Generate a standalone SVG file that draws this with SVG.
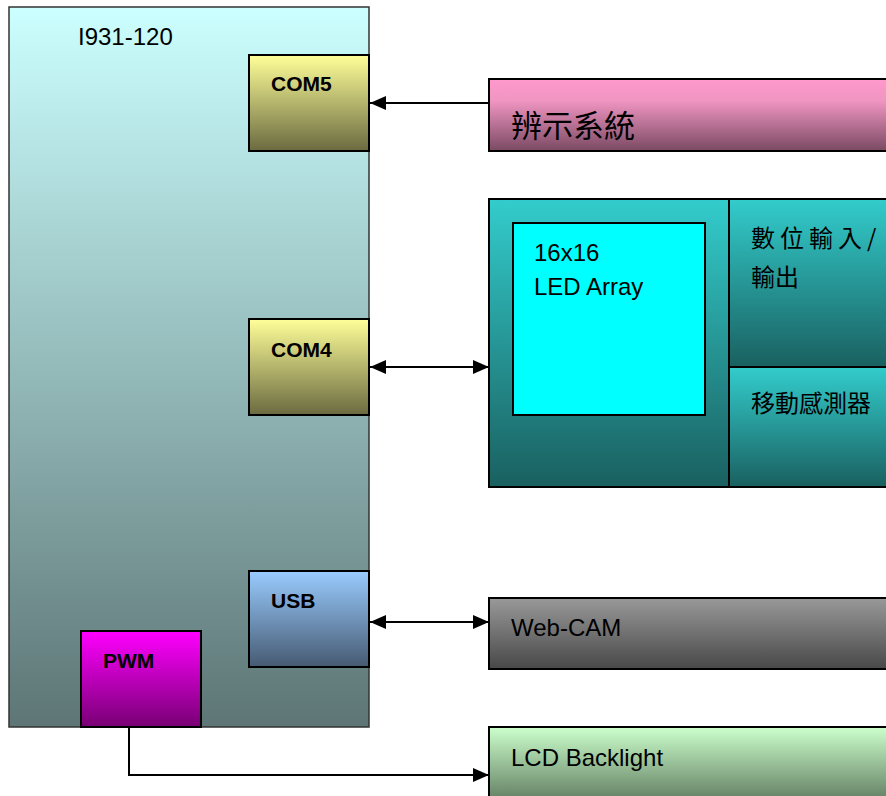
<svg xmlns="http://www.w3.org/2000/svg" width="886" height="796" viewBox="0 0 886 796">
<defs>
<linearGradient id="gBoard" x1="0" y1="0" x2="0" y2="1"><stop offset="0" stop-color="#ccffff"/><stop offset="1" stop-color="#5d7575"/></linearGradient>
<linearGradient id="gCom" x1="0" y1="0" x2="0" y2="1"><stop offset="0" stop-color="#ffff99"/><stop offset="1" stop-color="#6a6a40"/></linearGradient>
<linearGradient id="gUsb" x1="0" y1="0" x2="0" y2="1"><stop offset="0" stop-color="#99ccff"/><stop offset="1" stop-color="#465a72"/></linearGradient>
<linearGradient id="gPwm" x1="0" y1="0" x2="0" y2="1"><stop offset="0" stop-color="#ff00ff"/><stop offset="1" stop-color="#780074"/></linearGradient>
<linearGradient id="gPink" x1="0" y1="0" x2="0" y2="1"><stop offset="0" stop-color="#ff99cc"/><stop offset="0.3" stop-color="#f095c2"/><stop offset="1" stop-color="#7a4a62"/></linearGradient>
<linearGradient id="gTeal" x1="0" y1="0" x2="0" y2="1"><stop offset="0" stop-color="#33cccc"/><stop offset="1" stop-color="#1a6060"/></linearGradient>
<linearGradient id="gGray" x1="0" y1="0" x2="0" y2="1"><stop offset="0" stop-color="#999999"/><stop offset="1" stop-color="#484848"/></linearGradient>
<linearGradient id="gGreen" x1="0" y1="0" x2="0" y2="1"><stop offset="0" stop-color="#ccffcc"/><stop offset="1" stop-color="#5a745a"/></linearGradient>
<marker id="ah" markerWidth="16" markerHeight="14" refX="16" refY="7" orient="auto-start-reverse" markerUnits="userSpaceOnUse"><path d="M0,0 L16,7 L0,14 Z" fill="#000"/></marker>
</defs>
<style>
.box{stroke:#000;stroke-width:2}
.board{stroke:#333;stroke-width:1.5}
.lbl{font-family:"Liberation Sans",Arial,sans-serif;font-size:24px;fill:#000}
.port{font-family:"Liberation Sans",Arial,sans-serif;font-size:21px;font-weight:bold;fill:#000}
.cjk{font-family:"Noto Sans CJK TC","Noto Sans CJK SC",sans-serif;fill:#000}
.conn{stroke:#000;stroke-width:2;fill:none}
</style>
<rect width="886" height="796" fill="#fff"/>
<g id="board">
<rect x="9" y="7" width="360" height="720" fill="url(#gBoard)" class="board"/>
<text x="78" y="45" class="lbl">I931-120</text>
</g>
<g id="com5"><rect x="249" y="55" width="120" height="96" fill="url(#gCom)" class="box"/><text x="271" y="91" class="port">COM5</text></g>
<g id="com4"><rect x="249" y="319" width="120" height="96" fill="url(#gCom)" class="box"/><text x="271" y="357" class="port">COM4</text></g>
<g id="usb"><rect x="249" y="571" width="120" height="96" fill="url(#gUsb)" class="box"/><text x="271" y="608" class="port">USB</text></g>
<g id="pwm"><rect x="81" y="631" width="120" height="96" fill="url(#gPwm)" class="box"/><text x="103" y="668" class="port">PWM</text></g>
<g id="recog"><rect x="489" y="79" width="402" height="72" fill="url(#gPink)" class="box"/><text x="511" y="137" class="cjk" font-size="31">辨示系統</text></g>
<g id="module">
<rect x="489" y="199" width="402" height="288" fill="url(#gTeal)" class="box"/>
<rect x="729" y="199" width="162" height="168" fill="url(#gTeal)" class="box"/>
<rect x="729" y="367" width="162" height="120" fill="url(#gTeal)" class="box"/>
</g>
<g id="led"><rect x="513" y="223" width="192" height="192" fill="#00ffff" class="box"/>
<text x="534" y="261" class="lbl">16x16</text><text x="534" y="295" class="lbl">LED Array</text></g>
<g id="dio"><text x="751" y="247" class="cjk" font-size="24" letter-spacing="5">數位輸入/</text><text x="751" y="286" class="cjk" font-size="24">輸出</text></g>
<g id="motion"><text x="751" y="412" class="cjk" font-size="24">移動感測器</text></g>
<g id="webcam"><rect x="489" y="598" width="402" height="71" fill="url(#gGray)" class="box"/><text x="511" y="636" class="lbl">Web-CAM</text></g>
<g id="lcd"><rect x="489" y="727" width="402" height="80" fill="url(#gGreen)" class="box"/><text x="511" y="766" class="lbl">LCD Backlight</text></g>
<g id="connectors">
<line x1="489" y1="103" x2="370" y2="103" class="conn" marker-end="url(#ah)"/>
<line x1="370" y1="367" x2="489" y2="367" class="conn" marker-start="url(#ah)" marker-end="url(#ah)"/>
<line x1="370" y1="622" x2="489" y2="622" class="conn" marker-start="url(#ah)" marker-end="url(#ah)"/>
<polyline points="129,727 129,775 489,775" class="conn" marker-end="url(#ah)"/>
</g>
</svg>
